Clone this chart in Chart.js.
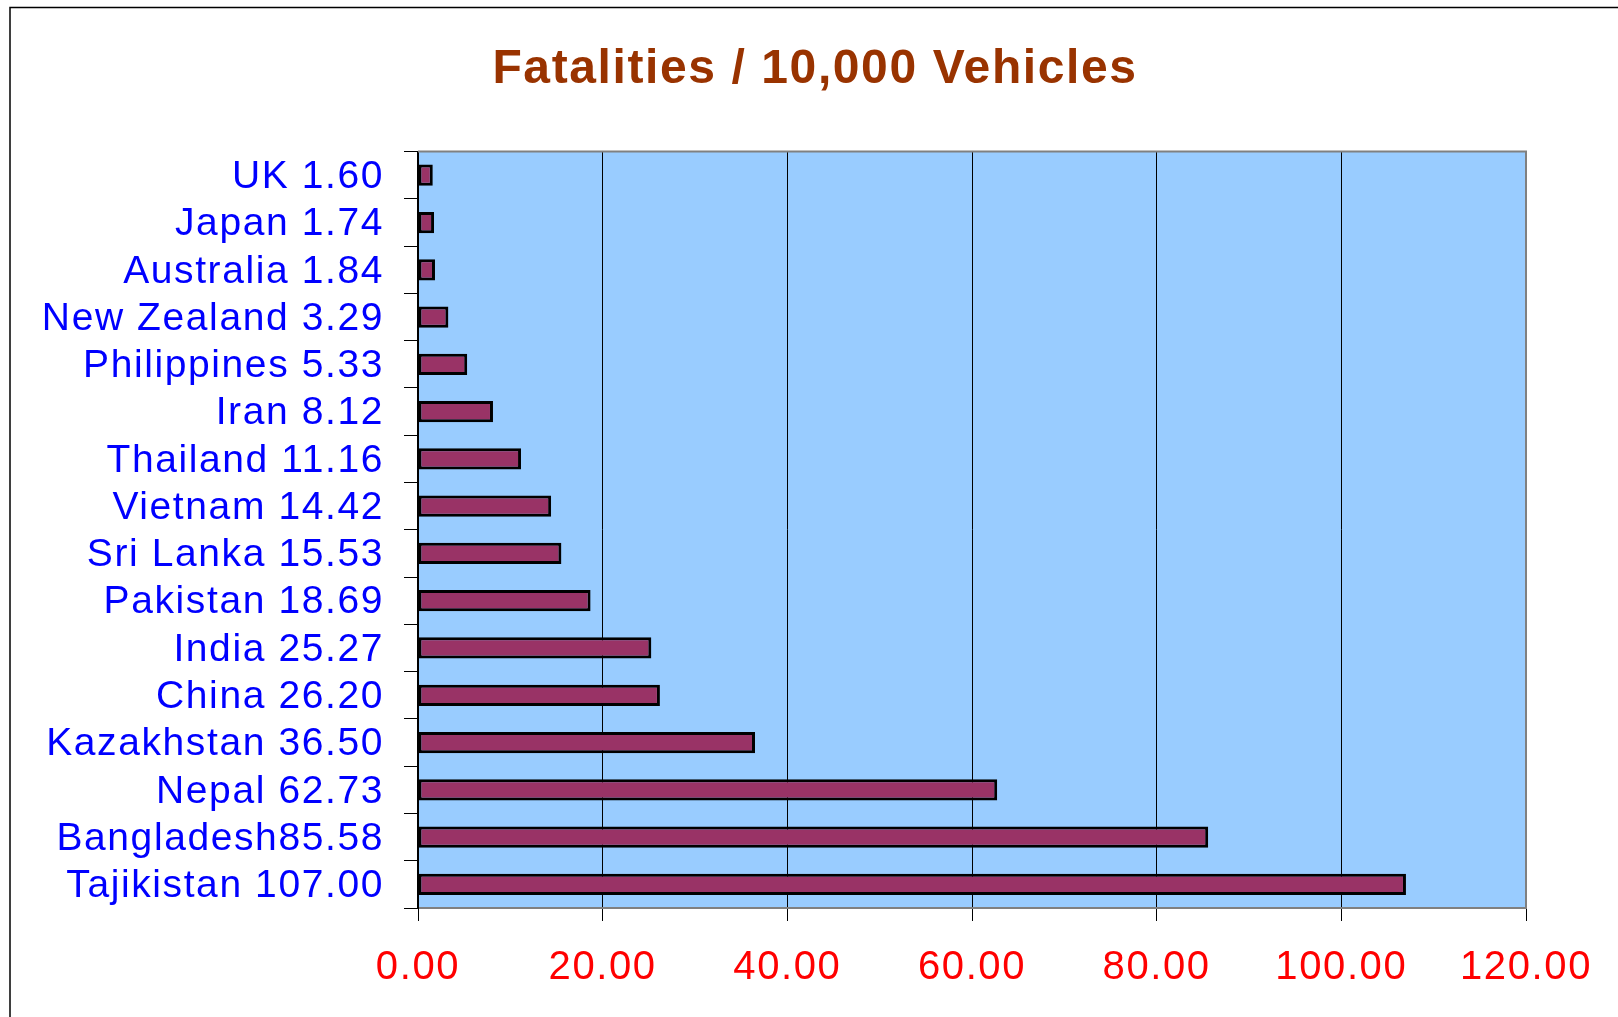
<!DOCTYPE html>
<html>
<head>
<meta charset="utf-8">
<script src="https://cdn.jsdelivr.net/npm/chart.js@4/dist/chart.umd.min.js"></script>
<style>
html, body { margin: 0; padding: 0; background: #fff; }
canvas { display: block; }
</style>
</head>
<body>
<canvas id="chart" width="1618" height="1017"></canvas>
<script>
const countries = [
    "UK 1.60", "Japan 1.74", "Australia 1.84", "New Zealand 3.29",
    "Philippines 5.33", "Iran 8.12", "Thailand 11.16", "Vietnam 14.42",
    "Sri Lanka 15.53", "Pakistan 18.69", "India 25.27", "China 26.20",
    "Kazakhstan 36.50", "Nepal 62.73", "Bangladesh85.58", "Tajikistan 107.00"
];
const fatalities = [1.60, 1.74, 1.84, 3.29, 5.33, 8.12, 11.16, 14.42,
    15.53, 18.69, 25.27, 26.20, 36.50, 62.73, 85.58, 107.00];
const xMin = 0, xMax = 120, xStep = 20;

const FONT = "'Liberation Sans', Arial, sans-serif";
const SPACING = '1.6px';

// background, outer frame and the grey plot border
const frame = {
    id: 'frame',
    beforeLayout(chart) { chart.ctx.letterSpacing = SPACING; },
    afterLayout(chart) {
        // let the long category labels spill into the left padding
        chart.scales.y.left = 0;
    },
    beforeDraw(chart) {
        const {ctx, chartArea: a} = chart;
        ctx.letterSpacing = SPACING;
        ctx.save();
        ctx.fillStyle = '#fff';
        ctx.fillRect(0, 0, chart.width, chart.height);
        ctx.fillStyle = '#99ccff';
        ctx.fillRect(a.left, a.top, a.right - a.left, a.bottom - a.top);
        ctx.strokeStyle = '#000';
        ctx.lineWidth = 1.5;
        ctx.strokeRect(10, 7.5, 1700, 1100);
        ctx.restore();
    },
    afterDraw(chart) {
        const {ctx, chartArea: a} = chart;
        ctx.save();
        ctx.strokeStyle = '#808080';
        ctx.lineWidth = 2;
        ctx.beginPath();
        ctx.moveTo(a.left, a.top);
        ctx.lineTo(a.right, a.top);
        ctx.lineTo(a.right, a.bottom);
        ctx.stroke();
        ctx.restore();
    }
};

new Chart(document.getElementById('chart'), {
    type: 'bar',
    data: {
        labels: countries,
        datasets: [{
            data: fatalities,
            backgroundColor: '#993366',
            borderColor: '#000',
            borderWidth: 3,
            borderSkipped: false,
            barPercentage: 0.9,
            categoryPercentage: 0.5
        }]
    },
    options: {
        indexAxis: 'y',
        responsive: false,
        animation: false,
        devicePixelRatio: 1,
        layout: { padding: { left: 104, right: 92, top: 0, bottom: 0 } },
        plugins: {
            legend: { display: false },
            tooltip: { enabled: false },
            title: {
                display: true,
                text: 'Fatalities / 10,000 Vehicles',
                color: '#993300',
                font: { family: FONT, size: 48, weight: 'bold' },
                padding: { top: 41, bottom: 53 }
            }
        },
        scales: {
            x: {
                min: xMin,
                max: xMax,
                afterFit: s => { s.height = 109; },
                ticks: {
                    stepSize: xStep,
                    color: '#ff0000',
                    font: { family: FONT, size: 40 },
                    padding: 23,
                    callback: v => v.toFixed(2)
                },
                grid: { color: '#000', lineWidth: 1, tickLength: 13 },
                border: { color: '#808080', width: 2 }
            },
            y: {
                afterFit: s => { s.width = 314; },
                ticks: {
                    autoSkip: false,
                    color: '#0000ff',
                    font: { family: FONT, size: 39 },
                    padding: 20,
                    labelOffset: 2
                },
                grid: { drawOnChartArea: false, color: '#000', lineWidth: 1, tickLength: 14 },
                border: { color: '#000', width: 2 }
            }
        }
    },
    plugins: [frame]
});
</script>
</body>
</html>
